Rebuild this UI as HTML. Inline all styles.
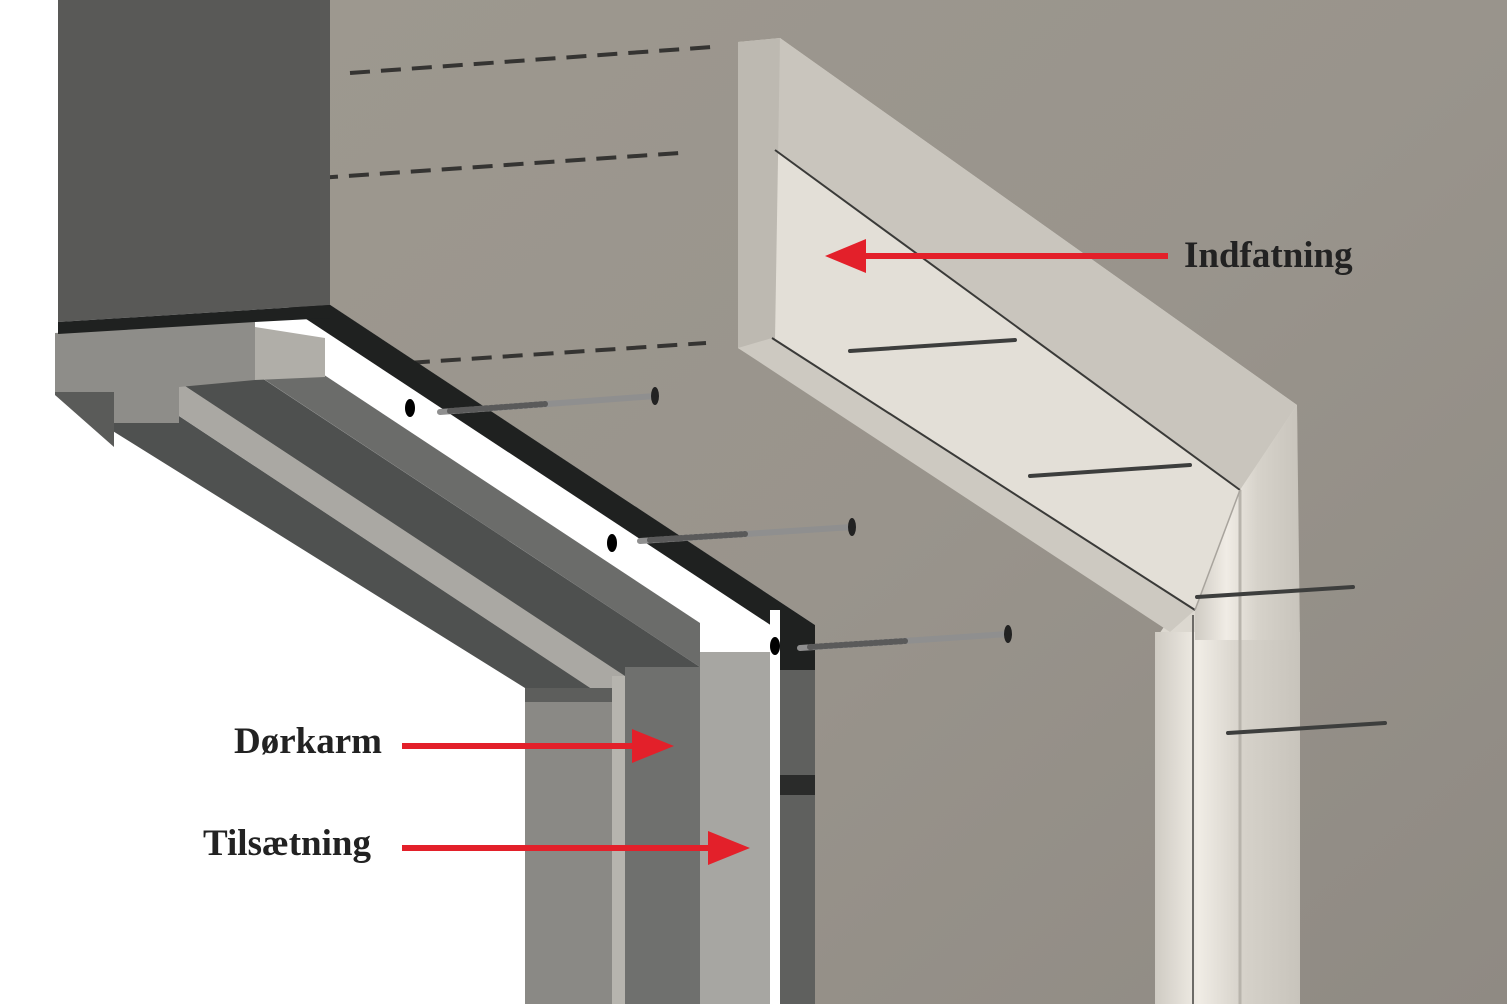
<!DOCTYPE html>
<html><head><meta charset="utf-8"><style>
html,body{margin:0;padding:0;background:#fff;width:1507px;height:1004px;overflow:hidden}
svg{display:block}
text{font-family:"Liberation Serif",serif;font-weight:bold;fill:#222;font-size:37px}
</style></head><body>
<svg width="1507" height="1004" viewBox="0 0 1507 1004" xmlns="http://www.w3.org/2000/svg">
<defs>
<linearGradient id="wall" x1="0" y1="0" x2="1" y2="1">
<stop offset="0" stop-color="#9d988f"/><stop offset="0.5" stop-color="#99948c"/><stop offset="1" stop-color="#8f8a83"/>
</linearGradient>
<linearGradient id="mold" x1="0" y1="0" x2="0.55" y2="-0.83">
<stop offset="0" stop-color="#c9c5bd"/><stop offset="0.35" stop-color="#f2efe8"/><stop offset="0.6" stop-color="#b9b5ad"/><stop offset="1" stop-color="#d8d4cc"/>
</linearGradient>
<linearGradient id="legm" x1="0" y1="0" x2="1" y2="0">
<stop offset="0" stop-color="#cfcbc3"/><stop offset="0.3" stop-color="#f0ece5"/><stop offset="0.6" stop-color="#d6d2ca"/><stop offset="1" stop-color="#c8c4bc"/>
</linearGradient>
</defs>
<polygon points="330,0 1507,0 1507,1004 815,1004 815,625 330,305" fill="url(#wall)"/>
<g stroke="#353432" stroke-width="4" stroke-dasharray="20 11">
<line x1="350" y1="73" x2="712" y2="47"/>
<line x1="318" y1="178" x2="680" y2="153"/>
<line x1="348" y1="367" x2="706" y2="343"/>
</g>
<!-- head bands -->
<polygon points="250,252 815,625 815,680 250,282" fill="#1f2120"/>
<polygon points="250,282 775,628 775,672 250,326" fill="#ffffff"/>
<polygon points="250,326 700,623 700,667 250,370" fill="#6b6c6a"/>
<polygon points="180,324 700,667 700,726 180,383" fill="#4e504f"/>
<polygon points="55,395 179,416 612,702 525,702 525,688" fill="#4f5150"/>
<polygon points="179,382 625,676 625,711 179,416" fill="#aaa8a3"/>
<!-- legs -->
<rect x="525" y="688" width="88" height="316" fill="#8a8985"/>
<rect x="525" y="688" width="88" height="14" fill="#5d5e5c"/>
<rect x="612" y="676" width="14" height="328" fill="#b6b4ae"/>
<rect x="625" y="667" width="75" height="337" fill="#6f706e"/>
<rect x="700" y="652" width="70" height="352" fill="#a7a6a2"/>
<rect x="770" y="610" width="10" height="394" fill="#ffffff"/>
<rect x="780" y="625" width="35" height="379" fill="#5f605e"/>
<rect x="780" y="625" width="35" height="45" fill="#1f2120"/>
<rect x="780" y="775" width="35" height="20" fill="#2a2b2a"/>
<!-- end faces -->
<polygon points="55,333 255,320 255,380 179,387 179,423 114,423 114,392 55,392" fill="#8e8d89"/>
<polygon points="55,392 114,392 114,447 55,395" fill="#5a5b59"/>
<polygon points="255,327 325,338 325,377 255,380" fill="#b0aea8"/>
<polygon points="58,0 330,0 330,305 58,322" fill="#595957"/>
<polygon points="58,322 330,305 330,318 255,322 58,334" fill="#1f2120"/>
<ellipse cx="410" cy="408" rx="5" ry="9" fill="#000"/>
<ellipse cx="612" cy="543" rx="5" ry="9" fill="#000"/>
<ellipse cx="775" cy="646" rx="5" ry="9" fill="#000"/>
<g stroke-linecap="round">
<line x1="440" y1="412" x2="655" y2="396" stroke="#8f8f8f" stroke-width="6"/>
<line x1="450" y1="411" x2="545" y2="404" stroke="#5a5a5a" stroke-width="6" stroke-dasharray="2 3"/>
<ellipse cx="655" cy="396" rx="4" ry="9" fill="#222"/>
<line x1="640" y1="541" x2="852" y2="527" stroke="#8f8f8f" stroke-width="6"/>
<line x1="650" y1="540" x2="745" y2="534" stroke="#5a5a5a" stroke-width="6" stroke-dasharray="2 3"/>
<ellipse cx="852" cy="527" rx="4" ry="9" fill="#222"/>
<line x1="800" y1="648" x2="1008" y2="634" stroke="#8f8f8f" stroke-width="6"/>
<line x1="810" y1="647" x2="905" y2="641" stroke="#5a5a5a" stroke-width="6" stroke-dasharray="2 3"/>
<ellipse cx="1008" cy="634" rx="4" ry="9" fill="#222"/>
</g>
<!-- casing -->
<polygon points="738,42 780,38 1297,405 1300,1004 1155,1004 1155,640 1170,618 738,348" fill="#dcd8d0"/>
<polygon points="780,38 1297,405 1240,490 775,150" fill="url(#mold)"/>
<polygon points="775,150 1240,490 1195,610 772,338" fill="#e3dfd7"/>
<polygon points="738,42 780,38 775,340 738,348" fill="#bdb9b1"/>
<polygon points="738,348 772,338 1195,610 1170,632" fill="#cdc9c1"/>
<line x1="775" y1="150" x2="1240" y2="490" stroke="#3a3a38" stroke-width="2"/>
<line x1="772" y1="338" x2="1195" y2="610" stroke="#3a3a38" stroke-width="2"/>
<rect x="1155" y="632" width="145" height="372" fill="url(#legm)"/>
<polygon points="1195,610 1240,490 1297,405 1300,640 1195,640" fill="url(#legm)"/>
<line x1="1193" y1="615" x2="1193" y2="1004" stroke="#6c6a66" stroke-width="2"/>
<line x1="1240" y1="490" x2="1240" y2="1004" stroke="#b8b4ac" stroke-width="3"/>
<line x1="1240" y1="490" x2="1195" y2="610" stroke="#a8a49d" stroke-width="1.5"/>
<g stroke="#3d3e3d" stroke-width="4" stroke-linecap="round">
<line x1="850" y1="351" x2="1015" y2="340"/>
<line x1="1030" y1="476" x2="1190" y2="465"/>
<line x1="1197" y1="597" x2="1353" y2="587"/>
<line x1="1228" y1="733" x2="1385" y2="723"/>
</g>
<g fill="#e3202a" stroke="#e3202a">
<line x1="1168" y1="256" x2="860" y2="256" stroke-width="6"/>
<polygon points="825,256 866,239 866,273" stroke="none"/>
<line x1="402" y1="746" x2="636" y2="746" stroke-width="6"/>
<polygon points="674,746 632,729 632,763" stroke="none"/>
<line x1="402" y1="848" x2="712" y2="848" stroke-width="6"/>
<polygon points="750,848 708,831 708,865" stroke="none"/>
</g>
<text x="1184" y="267">Indfatning</text>
<text x="234" y="753">Dørkarm</text>
<text x="203" y="855">Tilsætning</text>
</svg>
</body></html>
